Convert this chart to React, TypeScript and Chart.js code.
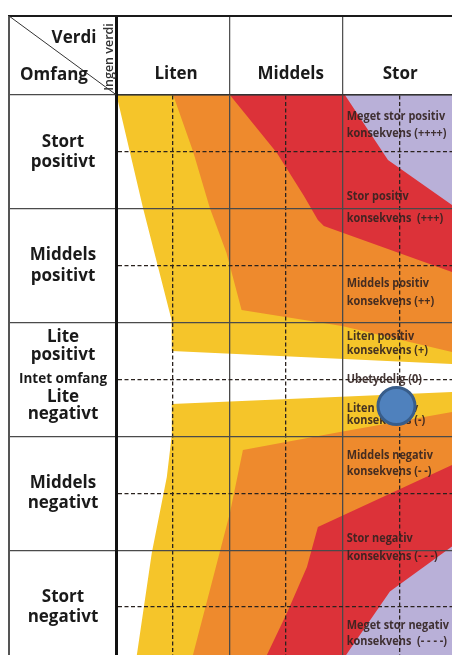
import React, { useEffect, useRef } from 'react';
import { Chart, registerables } from 'chart.js';

Chart.register(...registerables);

const FONT = '"Open Sans", "Noto Sans", sans-serif';

// ---- axis ranges (x = Verdi, y = Omfang) ----
const xRange = [0, 2.967];
const yRange = [-2.421, 2.5];

// ---- Verdi (columns) ----
const verdiLabels = ['Liten', 'Middels', 'Stor'];
const verdiLabelAt = [0.527, 1.54, 2.509];
const xSolidLines = [0, 1, 2];
const xDashedLines = [0.5, 1.5, 2.5];

// ---- Omfang (rows) ----
const omfangLabels = [
  ['Stort', 'positivt'],
  ['Middels', 'positivt'],
  ['Lite', 'positivt'],
  ['Intet omfang'],
  ['Lite', 'negativt'],
  ['Middels', 'negativt'],
  ['Stort', 'negativt'],
];
const omfangLabelAt = [2, 1, 0.294, 0, -0.233, -1, -2];
const ySolidLines = [2.5, 1.5, 0.5, -0.5, -1.5];
const yDashedLines = [2, 1, 0, -1, -2];

// ---- consequence zones (polygons in x/y data units) ----
const yellowUpper = [[-0.024, 2.6], [0, 2.5], [0.235, 1.504], [0.487, 0.523], [0.489, 0.251], [2.967, 0.137], [3.05, 0.133], [3.05, 2.6]];
const orangeUpper = [[0.465, 2.6], [0.501, 2.5], [0.678, 2.002], [0.826, 1.504], [0.973, 1.112], [1.106, 0.611], [1.994, 0.47], [2.967, 0.242], [3.05, 0.222], [3.05, 2.6]];
const redUpper = [[0.921, 2.6], [1.003, 2.5], [1.419, 1.99], [1.658, 1.612], [1.781, 1.401], [1.834, 1.349], [2.967, 0.945], [3.05, 0.915], [3.05, 2.6]];
const purpleUpper = [[1.953, 2.6], [2.02, 2.5], [2.401, 1.929], [2.967, 1.533], [3.05, 1.475], [3.05, 2.6]];

const yellowLower = [[0.489, -0.215], [2.967, -0.11], [3.05, -0.106], [3.05, -2.6], [0.154, -2.6], [0.18, -2.421], [0.312, -1.525], [0.445, -0.857], [0.489, -0.488]];
const orangeLower = [[1.118, -0.62], [1.976, -0.462], [2.967, -0.286], [3.05, -0.271], [3.05, -2.6], [0.629, -2.6], [0.676, -2.421], [0.826, -1.85], [1.003, -1.173]];
const redLower = [[1.781, -1.296], [2.967, -0.751], [3.05, -0.713], [3.05, -2.6], [1.244, -2.6], [1.33, -2.421], [1.507, -2.051], [1.684, -1.647]];
const purpleLower = [[2.418, -1.863], [2.967, -1.468], [3.05, -1.41], [3.05, -2.6], [1.906, -2.6], [2.064, -2.373]];

// ---- consequence texts ----
const konsekvensText = [
  ['Meget stor positiv', 'konsekvens (++++)'],
  ['Stor positiv', 'konsekvens  (+++)'],
  ['Middels positiv', 'konsekvens (++)'],
  ['Liten positiv', 'konsekvens (+)'],
  ['Ubetydelig (0)'],
  ['Liten negativ', 'konsekvens (-)'],
  ['Middels negativ', 'konsekvens (- -)'],
  ['Stor negativ', 'konsekvens (- - -)'],
  ['Meget stor negativ', 'konsekvens  (- - - -)'],
];
const konsekvensAt = [
  [2.309, 2.166],
  [1.606, 1.419],
  [0.848, 0.684],
  [0.376, 0.259],
  [0.002],
  [-0.253, -0.356],
  [-0.663, -0.81],
  [-1.395, -1.557],
  [-2.157, -2.304],
];
const konsekvensX = 2.036;

// ---- marked point ----
const markerPoint = [{ x: 2.476, y: -0.233 }];

const COLORS = {
  yellow: '#F5C52A',
  orange: '#EE8A2D',
  red: '#DC3239',
  purple: '#B9B0D8',
};

const near = (a: number, b: number) => Math.abs(a - b) < 1e-6;
const inList = (v: number, list: number[]) => list.some((l) => near(l, v));
const uniqueSorted = (...lists: number[][]) => {
  const out: number[] = [];
  lists.flat().forEach((v) => {
    if (!out.some((o) => near(o, v))) out.push(v);
  });
  return out.sort((a, b) => a - b);
};

export default function App() {
  const ref = useRef<HTMLCanvasElement>(null);

  useEffect(() => {
    document.body.style.margin = '0';
    const canvas = ref.current;
    if (!canvas) return;

    const Y_AXIS_W = 116.5;
    const X_AXIS_H = 95;
    const FRAME_LEFT = 9;
    const FRAME_TOP = 16;
    const yTickLen = Y_AXIS_W - FRAME_LEFT;
    const xTickLen = X_AXIS_H - FRAME_TOP;

    const rowFont = (v: number) => {
      if (near(v, 0)) return { family: FONT, size: 13.5, weight: 'bold', lineHeight: 1.2 };
      if (near(v, -0.233)) return { family: FONT, size: 17, weight: 'bold', lineHeight: 1.0 };
      if (near(v, 0.294)) return { family: FONT, size: 17, weight: 'bold', lineHeight: 1.1 };
      return { family: FONT, size: 17, weight: 'bold', lineHeight: 1.2 };
    };

    // measure widest row label to centre labels in the first column
    const mctx = document.createElement('canvas').getContext('2d')!;
    let widest = 0;
    omfangLabels.forEach((lines, i) => {
      const f = rowFont(omfangLabelAt[i]);
      mctx.font = `normal ${f.weight} ${f.size}px ${f.family}`;
      lines.forEach((l) => {
        widest = Math.max(widest, mctx.measureText(l).width);
      });
    });
    const rowLabelCenter = 63;
    const yPad = Y_AXIS_W - yTickLen - rowLabelCenter - widest / 2;

    const colFontSize = 17;
    const colLineH = 1.2;
    const colLabelCenter = 74;
    const xPad = X_AXIS_H - xTickLen - colLabelCenter - (colFontSize * colLineH) / 2;

    const xTicks = uniqueSorted(xSolidLines, xDashedLines, verdiLabelAt).filter((v) => v >= xRange[0] - 1e-9 && v <= xRange[1] + 1e-9);
    const yTicks = uniqueSorted(ySolidLines, yDashedLines, omfangLabelAt).filter((v) => v >= yRange[0] - 1e-9 && v <= yRange[1] + 1e-9);

    const SOLID = '#4a4a4a';
    const DASHED = '#2a221e';
    const DASH = [4, 2.5];

    const poly = (pts: number[][], color: string, order: number) => ({
      type: 'line' as const,
      data: pts.map(([x, y]) => ({ x, y })),
      backgroundColor: color,
      borderColor: 'rgba(0,0,0,0)',
      borderWidth: 0,
      pointRadius: 0,
      pointHoverRadius: 0,
      fill: 'shape',
      tension: 0,
      order,
    });

    const konsekvensPlugin = {
      id: 'konsekvensText',
      beforeDatasetsDraw(chart: any) {
        const { ctx } = chart;
        const xs = chart.scales.x;
        const ys = chart.scales.y;
        const x0 = xs.getPixelForValue(konsekvensX);
        ctx.save();
        ctx.font = `bold 13px ${FONT}`;
        ctx.fillStyle = 'rgba(50,34,32,0.9)';
        ctx.textBaseline = 'middle';
        ctx.textAlign = 'left';
        konsekvensText.forEach((lines, i) => {
          lines.forEach((line, j) => {
            const py = ys.getPixelForValue(konsekvensAt[i][j]);
            ctx.save();
            ctx.translate(x0, py);
            ctx.scale(0.84, 1);
            ctx.fillText(line, 0, 0);
            ctx.restore();
          });
        });
        ctx.restore();
      },
    };

    const framePlugin = {
      id: 'frame',
      afterDraw(chart: any) {
        const { ctx, chartArea } = chart;
        const left = chartArea.left - yTickLen;
        const top = chartArea.top - xTickLen;
        ctx.save();
        // top border
        ctx.strokeStyle = '#1a1a1a';
        ctx.lineWidth = 2;
        ctx.beginPath();
        ctx.moveTo(left - 1, top);
        ctx.lineTo(chart.width, top);
        ctx.stroke();
        // left border
        ctx.strokeStyle = '#555';
        ctx.lineWidth = 2;
        ctx.beginPath();
        ctx.moveTo(left, top);
        ctx.lineTo(left, chart.height);
        ctx.stroke();
        // diagonal
        ctx.strokeStyle = '#333';
        ctx.lineWidth = 1;
        ctx.beginPath();
        ctx.moveTo(left, top);
        ctx.lineTo(chartArea.left, chartArea.top);
        ctx.stroke();
        // header texts
        ctx.fillStyle = '#1a1a1a';
        ctx.textAlign = 'center';
        ctx.textBaseline = 'middle';
        ctx.font = `bold 17px ${FONT}`;
        ctx.fillText('Verdi', left + 65, top + 22);
        ctx.fillText('Omfang', left + 45, top + 59);
        ctx.save();
        ctx.translate(chartArea.left - 7.5, top + 41);
        ctx.rotate(-Math.PI / 2);
        ctx.font = `600 12.5px ${FONT}`;
        ctx.fillStyle = '#333';
        ctx.fillText('Ingen verdi', 0, 0);
        ctx.restore();
        ctx.restore();
      },
    };

    const chart = new Chart(canvas, {
      type: 'line',
      data: {
        datasets: [
          {
            type: 'line',
            data: markerPoint,
            showLine: false,
            fill: false,
            pointRadius: 18.5,
            pointHoverRadius: 18.5,
            pointBackgroundColor: '#4F81BD',
            pointBorderColor: '#385D8A',
            pointBorderWidth: 3,
            order: 0,
          },
          poly(purpleUpper, COLORS.purple, 1),
          poly(purpleLower, COLORS.purple, 1),
          poly(redUpper, COLORS.red, 2),
          poly(redLower, COLORS.red, 2),
          poly(orangeUpper, COLORS.orange, 3),
          poly(orangeLower, COLORS.orange, 3),
          poly(yellowUpper, COLORS.yellow, 4),
          poly(yellowLower, COLORS.yellow, 4),
        ] as any,
      },
      options: {
        responsive: false,
        animation: false,
        events: [],
        layout: { padding: 0, autoPadding: false },
        plugins: {
          legend: { display: false },
          tooltip: { enabled: false },
          filler: { drawTime: 'beforeDraw' },
        } as any,
        scales: {
          x: {
            type: 'linear',
            position: 'top',
            min: xRange[0],
            max: xRange[1],
            bounds: 'data',
            afterBuildTicks: (s: any) => {
              s.ticks = xTicks.map((v) => ({ value: v }));
            },
            afterFit: (s: any) => {
              s.height = X_AXIS_H;
            },
            ticks: {
              autoSkip: false,
              maxRotation: 0,
              minRotation: 0,
              padding: xPad,
              color: '#1a1a1a',
              font: { family: FONT, size: colFontSize, weight: 'bold', lineHeight: colLineH },
              callback: (v: any) => {
                const i = verdiLabelAt.findIndex((p) => near(p, Number(v)));
                return i >= 0 ? verdiLabels[i] : '';
              },
            },
            grid: {
              drawTicks: true,
              tickLength: xTickLen,
              lineWidth: (c: any) => {
                const v = c.tick ? c.tick.value : NaN;
                if (near(v, 0)) return 3;
                if (inList(v, xSolidLines) || inList(v, xDashedLines)) return 1.3;
                return 0;
              },
              color: (c: any) => {
                const v = c.tick ? c.tick.value : NaN;
                if (near(v, 0)) return '#111';
                if (inList(v, xSolidLines)) return SOLID;
                if (inList(v, xDashedLines)) return DASHED;
                return 'rgba(0,0,0,0)';
              },
              tickWidth: (c: any) => {
                const v = c.tick ? c.tick.value : NaN;
                if (near(v, 0)) return 3;
                if (inList(v, xSolidLines)) return 1.2;
                return 0;
              },
              tickColor: (c: any) => {
                const v = c.tick ? c.tick.value : NaN;
                if (near(v, 0)) return '#111';
                return SOLID;
              },
            },
            border: {
              display: true,
              color: '#333',
              width: 1.5,
              dash: (c: any) => (c.tick && inList(c.tick.value, xDashedLines) ? DASH : []),
            },
          },
          y: {
            type: 'linear',
            position: 'left',
            min: yRange[0],
            max: yRange[1],
            bounds: 'data',
            afterBuildTicks: (s: any) => {
              s.ticks = yTicks.map((v) => ({ value: v }));
            },
            afterFit: (s: any) => {
              s.width = Y_AXIS_W;
            },
            ticks: {
              autoSkip: false,
              crossAlign: 'center',
              padding: yPad,
              color: '#1a1a1a',
              font: (c: any) => rowFont(c.tick ? c.tick.value : 1),
              callback: (v: any) => {
                const i = omfangLabelAt.findIndex((p) => near(p, Number(v)));
                return i >= 0 ? omfangLabels[i] : '';
              },
            },
            grid: {
              drawTicks: true,
              tickLength: yTickLen,
              lineWidth: (c: any) => {
                const v = c.tick ? c.tick.value : NaN;
                if (inList(v, ySolidLines) || inList(v, yDashedLines)) return 1.3;
                return 0;
              },
              color: (c: any) => {
                const v = c.tick ? c.tick.value : NaN;
                if (inList(v, ySolidLines)) return SOLID;
                if (inList(v, yDashedLines)) return DASHED;
                return 'rgba(0,0,0,0)';
              },
              tickWidth: (c: any) => {
                const v = c.tick ? c.tick.value : NaN;
                if (inList(v, ySolidLines)) return 1.3;
                return 0;
              },
              tickColor: SOLID,
            },
            border: {
              display: true,
              color: '#111',
              width: 3,
              dash: (c: any) => (c.tick && inList(c.tick.value, yDashedLines) ? DASH : []),
            },
          },
        },
      } as any,
      plugins: [konsekvensPlugin, framePlugin],
    });

    return () => {
      chart.destroy();
    };
  }, []);

  return <canvas ref={ref} width={452} height={655} style={{ display: 'block' }} />;
}
